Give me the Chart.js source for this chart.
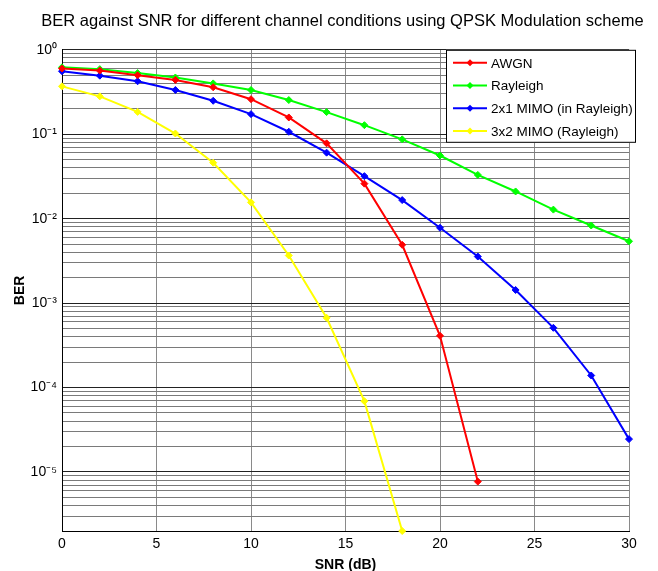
<!DOCTYPE html>
<html>
<head>
<meta charset="utf-8">
<script src="https://cdn.jsdelivr.net/npm/chart.js@4"></script>
<style>
  body { margin: 0; background: #fff; }
  #wrap { width: 658px; height: 571px; }
</style>
</head>
<body>
<div id="wrap"><canvas id="chart" width="658" height="571"></canvas></div>
<script>
// SNR points (dB)
const snr = [0, 2, 4, 6, 8, 10, 12, 14, 16, 18, 20, 22, 24, 26, 28, 30];

// BER
const awgn = [0.6, 0.567, 0.50, 0.44, 0.36, 0.26, 0.158, 0.078, 0.026, 0.0049, 4.1e-4, 7.7e-6];
const rayleigh = [0.62, 0.59, 0.53, 0.47, 0.40, 0.334, 0.254, 0.183, 0.128, 0.087, 0.056, 0.033, 0.021, 0.0128, 0.0083, 0.0054];
const mimo21 = [0.557, 0.494, 0.424, 0.334, 0.249, 0.173, 0.107, 0.0605, 0.0319, 0.0166, 0.0078, 0.00356, 0.00143, 5.1e-4, 1.39e-4, 2.45e-5];
const mimo32 = [0.369, 0.281, 0.184, 0.102, 0.046, 0.0156, 0.00366, 6.7e-4, 6.9e-5, 2e-6];

const seriesNames = ["AWGN", "Rayleigh", "2x1 MIMO (in Rayleigh)", "3x2 MIMO (Rayleigh)"];
const seriesColors = ["#ff0000", "#00ff00", "#0000ff", "#ffff00"];
const seriesValues = [awgn, rayleigh, mimo21, mimo32];

const yMin = 2e-6, yMax = 1;
const sup = { "-": "\u207b", "0": "\u2070", "1": "\u00b9", "2": "\u00b2", "3": "\u00b3", "4": "\u2074", "5": "\u2075", "6": "\u2076" };

// 1..9 x 10^n gridlines inside the range
const yTicks = [];
for (let e = -6; e <= 0; e++) {
  for (let m = 1; m <= 9; m++) {
    const v = m * Math.pow(10, e);
    if (v >= yMin * 0.999 && v <= yMax * 1.001) yTicks.push(v);
  }
}

function isDecade(v) {
  const e = Math.round(Math.log10(v));
  return Math.abs(v / Math.pow(10, e) - 1) < 1e-6;
}

const datasets = seriesValues.map((vals, i) => ({
  label: seriesNames[i],
  data: vals.map((v, j) => ({ x: snr[j], y: v })),
  borderColor: seriesColors[i],
  backgroundColor: seriesColors[i],
  borderWidth: 2,
  pointStyle: "rectRot",
  pointRadius: 3.5,
  pointBorderWidth: 1,
  tension: 0,
  clip: false
}));

// legend box drawn inside the plot, top right
const boxLegend = {
  id: "boxLegend",
  afterDatasetsDraw(chart) {
    const { ctx, chartArea } = chart;
    const w = 190, h = 93;
    const x0 = chartArea.right + 7 - w;
    const y0 = chartArea.top;
    ctx.save();
    ctx.fillStyle = "#fff";
    ctx.fillRect(x0, y0, w, h);
    ctx.strokeStyle = "#000";
    ctx.lineWidth = 1;
    ctx.strokeRect(x0 + 0.5, y0 + 0.5, w - 1, h - 1);
    ctx.font = "13.5px 'Liberation Sans', Arial, sans-serif";
    ctx.textBaseline = "middle";
    chart.data.datasets.forEach((ds, i) => {
      const y = y0 + 13 + i * 22.7;
      ctx.strokeStyle = ds.borderColor;
      ctx.lineWidth = 2;
      ctx.beginPath();
      ctx.moveTo(x0 + 7, y);
      ctx.lineTo(x0 + 41, y);
      ctx.stroke();
      ctx.fillStyle = ds.borderColor;
      ctx.beginPath();
      ctx.moveTo(x0 + 24, y - 3.5);
      ctx.lineTo(x0 + 27.5, y);
      ctx.lineTo(x0 + 24, y + 3.5);
      ctx.lineTo(x0 + 20.5, y);
      ctx.closePath();
      ctx.fill();
      ctx.fillStyle = "#000";
      ctx.fillText(ds.label, x0 + 45, y + 1);
    });
    ctx.restore();
  }
};

new Chart(document.getElementById("chart"), {
  type: "line",
  data: { datasets },
  options: {
    responsive: false,
    animation: false,
    layout: { padding: { left: 27, top: 0, right: 0, bottom: 0 } },
    plugins: {
      legend: { display: false },
      tooltip: { enabled: false },
      title: {
        display: true,
        text: "BER against SNR for different channel conditions using QPSK Modulation scheme",
        color: "#000",
        font: { family: "'Liberation Sans', Arial, sans-serif", size: 16.5, weight: "normal", lineHeight: 1.2 },
        padding: { top: 12, bottom: 18 }
      }
    },
    scales: {
      x: {
        type: "linear",
        min: 0,
        max: 30,
        ticks: {
          stepSize: 5,
          color: "#000",
          padding: 5,
          font: { family: "'Liberation Sans', Arial, sans-serif", size: 14 }
        },
        grid: { color: "#8a8a8a", lineWidth: 1, drawTicks: false },
        border: { display: true, color: "#000", width: 1 },
        title: {
          display: true,
          text: "SNR (dB)",
          color: "#000",
          font: { family: "'Liberation Sans', Arial, sans-serif", size: 14, weight: "bold", lineHeight: 0.86 },
          padding: 0
        },
        afterFit(scale) {
          scale.height = 40;
          scale.paddingRight = 29;
        }
      },
      y: {
        type: "logarithmic",
        min: yMin,
        max: yMax,
        afterBuildTicks(scale) {
          scale.ticks = yTicks.map(v => ({ value: v, major: isDecade(v) }));
        },
        ticks: {
          autoSkip: false,
          color: "#000",
          padding: 5,
          font: { family: "'Liberation Sans', Arial, sans-serif", size: 14 },
          callback(v) {
            if (!isDecade(v)) return "";
            const e = String(Math.round(Math.log10(v)));
            return "10" + e.split("").map(c => sup[c]).join("");
          }
        },
        grid: {
          drawTicks: false,
          lineWidth: 1,
          color: ctx => (ctx.tick && isDecade(ctx.tick.value) ? "#222" : "#7a7a7a")
        },
        border: { display: true, color: "#000", width: 1 },
        title: {
          display: true,
          text: "BER",
          color: "#000",
          font: { family: "'Liberation Sans', Arial, sans-serif", size: 14, weight: "bold", lineHeight: 1.2 },
          padding: { top: -15.4, bottom: 0 }
        },
        afterFit(scale) { scale.width = 35; }
      }
    }
  },
  plugins: [boxLegend]
});
</script>
</body>
</html>
